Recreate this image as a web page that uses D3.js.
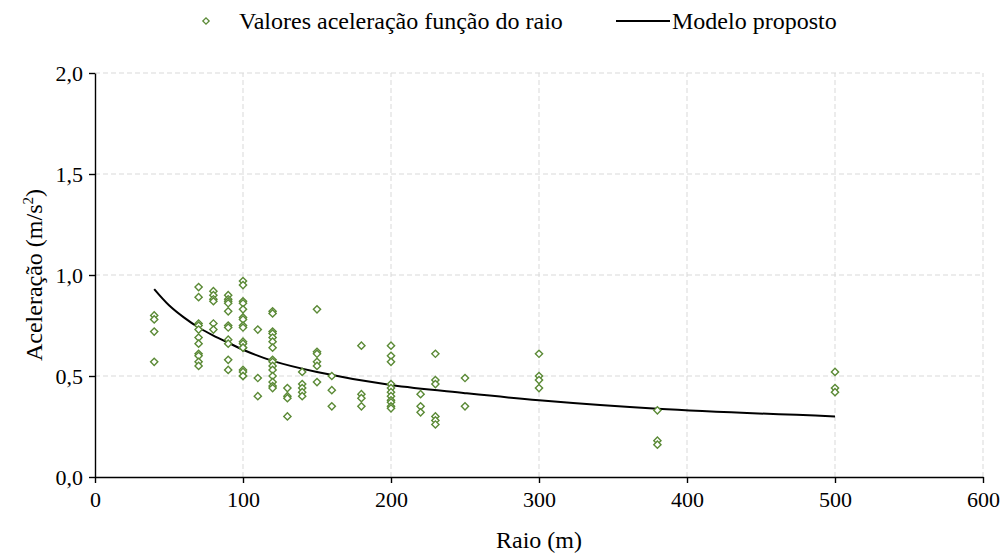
<!DOCTYPE html>
<html>
<head>
<meta charset="utf-8">
<script src="https://cdn.jsdelivr.net/npm/d3@7"></script>
<style>
    body { margin: 0; background: white; }
    svg, svg text { font-family: "Liberation Serif", "Times New Roman", "DejaVu Serif", serif; }
</style>
</head>
<body>
<svg id="chart"></svg>
<script>
// raios medidos (m) and the acceleration values read at each one (m/s2)
var raios = [40, 70, 80, 90, 100, 110, 120, 130, 140, 150, 160, 180, 200, 220, 230, 250, 300, 380, 500];
var aceleracoes = [
    [0.80, 0.78, 0.72, 0.57],
    [0.94, 0.89, 0.76, 0.75, 0.73, 0.69, 0.66, 0.61, 0.60, 0.57, 0.55],
    [0.92, 0.90, 0.88, 0.87, 0.76, 0.73],
    [0.90, 0.88, 0.87, 0.86, 0.82, 0.75, 0.74, 0.68, 0.66, 0.58, 0.53],
    [0.97, 0.95, 0.87, 0.86, 0.83, 0.79, 0.78, 0.75, 0.74, 0.67, 0.66, 0.64, 0.64, 0.53, 0.52, 0.50, 0.50],
    [0.73, 0.49, 0.40],
    [0.82, 0.81, 0.72, 0.71, 0.69, 0.67, 0.64, 0.58, 0.57, 0.55, 0.53, 0.50, 0.47, 0.45, 0.44],
    [0.44, 0.40, 0.39, 0.30],
    [0.52, 0.46, 0.44, 0.42, 0.40],
    [0.83, 0.62, 0.61, 0.57, 0.55, 0.47],
    [0.50, 0.43, 0.35],
    [0.65, 0.41, 0.39, 0.35],
    [0.65, 0.60, 0.57, 0.46, 0.44, 0.42, 0.40, 0.38, 0.37, 0.35, 0.34],
    [0.41, 0.35, 0.32],
    [0.61, 0.48, 0.46, 0.30, 0.28, 0.26],
    [0.49, 0.35],
    [0.61, 0.50, 0.48, 0.44],
    [0.33, 0.18, 0.16],
    [0.52, 0.44, 0.42]
];

// modelo proposto
var modeloRaio = [40, 50, 60, 70, 80, 90, 100, 120, 150, 200, 250, 300, 380, 500];
var modeloAcel = [0.93, 0.85, 0.79, 0.74, 0.70, 0.665, 0.63, 0.575, 0.52, 0.455, 0.415, 0.38, 0.338, 0.30];

var xTicks = [0, 100, 200, 300, 400, 500, 600];
var yTicks = [0, 0.5, 1.0, 1.5, 2.0];
var legendLabels = ['Valores aceleração função do raio', 'Modelo proposto'];

var width = 1003, height = 554;
var margin = {top: 73, right: 20, bottom: 77, left: 95};
var font = '"Liberation Serif", "Times New Roman", "DejaVu Serif", serif';
var color_pts = '#5b8a36';
var color_grid = '#d9d9d9';

var svg = d3.select('#chart')
    .attr('width', width)
    .attr('height', height)
    .attr('font-family', font);

var x = d3.scaleLinear().domain([0, 600]).range([margin.left, width - margin.right]);
var y = d3.scaleLinear().domain([0, 2]).range([height - margin.bottom, margin.top]);

var ptBr = d3.formatLocale({decimal: ',', thousands: '.', grouping: [3], currency: ['R$', '']});
var fmtY = ptBr.format('.1f');

// grid
svg.append('g')
    .selectAll('line')
    .data(xTicks.filter(function(d) { return d > 0; }))
    .join('line')
    .attr('x1', function(d) { return x(d); })
    .attr('x2', function(d) { return x(d); })
    .attr('y1', y(0))
    .attr('y2', y(2))
    .attr('stroke', color_grid)
    .attr('stroke-dasharray', '5,3');
svg.append('g')
    .selectAll('line')
    .data(yTicks.filter(function(d) { return d > 0; }))
    .join('line')
    .attr('x1', x(0))
    .attr('x2', x(600))
    .attr('y1', function(d) { return y(d); })
    .attr('y2', function(d) { return y(d); })
    .attr('stroke', color_grid)
    .attr('stroke-dasharray', '5,3');

// axes
var gx = svg.append('g')
    .attr('transform', 'translate(0,' + y(0) + ')')
    .call(d3.axisBottom(x).tickValues(xTicks).tickSize(6).tickSizeOuter(0).tickPadding(8));
var gy = svg.append('g')
    .attr('transform', 'translate(' + x(0) + ',0)')
    .call(d3.axisLeft(y).tickValues(yTicks).tickFormat(fmtY).tickSize(6).tickSizeOuter(0).tickPadding(6));
[gx, gy].forEach(function(g) {
    g.attr('font-family', font).attr('font-size', 22);
    g.select('.domain').attr('stroke', 'black').attr('stroke-width', 1.4);
    g.selectAll('.tick line').attr('stroke', 'black').attr('stroke-width', 1.4);
    g.selectAll('.tick text').attr('fill', 'black');
});

// axis titles
svg.append('text')
    .attr('x', (x(0) + x(600)) / 2)
    .attr('y', 548)
    .attr('text-anchor', 'middle')
    .attr('font-size', 24)
    .text('Raio (m)');
var ty = svg.append('text')
    .attr('transform', 'translate(42,' + (y(0) + y(2)) / 2 + ') rotate(-90)')
    .attr('text-anchor', 'middle')
    .attr('font-size', 24);
ty.append('tspan').text('Aceleração (m/s');
ty.append('tspan').attr('font-size', 15).attr('dy', -9).text('2');
ty.append('tspan').attr('dy', 9).text(')');

// model line
var modelo = modeloRaio.map(function(r, i) { return [r, modeloAcel[i]]; });
svg.append('path')
    .datum(modelo)
    .attr('fill', 'none')
    .attr('stroke', 'black')
    .attr('stroke-width', 2)
    .attr('d', d3.line()
        .x(function(d) { return x(d[0]); })
        .y(function(d) { return y(d[1]); })
        .curve(d3.curveCatmullRom.alpha(0.5)));

// points
var pontos = [];
raios.forEach(function(r, i) {
    aceleracoes[i].forEach(function(a) { pontos.push([r, a]); });
});
var diamond = d3.symbol().type(d3.symbolSquare).size(26);
svg.append('g')
    .selectAll('path')
    .data(pontos)
    .join('path')
    .attr('d', diamond)
    .attr('transform', function(d) { return 'translate(' + x(d[0]) + ',' + y(d[1]) + ') rotate(45)'; })
    .attr('fill', 'white')
    .attr('stroke', color_pts)
    .attr('stroke-width', 1.4);

// legend
var lg = svg.append('g');
lg.append('path')
    .attr('d', d3.symbol().type(d3.symbolSquare).size(20))
    .attr('transform', 'translate(206,21) rotate(45)')
    .attr('fill', 'white')
    .attr('stroke', color_pts)
    .attr('stroke-width', 1.3);
lg.append('text')
    .attr('x', 239)
    .attr('y', 29)
    .attr('font-size', 24)
    .text(legendLabels[0]);
lg.append('line')
    .attr('x1', 616).attr('x2', 670)
    .attr('y1', 21).attr('y2', 21)
    .attr('stroke', 'black')
    .attr('stroke-width', 2);
lg.append('text')
    .attr('x', 672)
    .attr('y', 29)
    .attr('font-size', 24)
    .text(legendLabels[1]);
</script>
</body>
</html>
